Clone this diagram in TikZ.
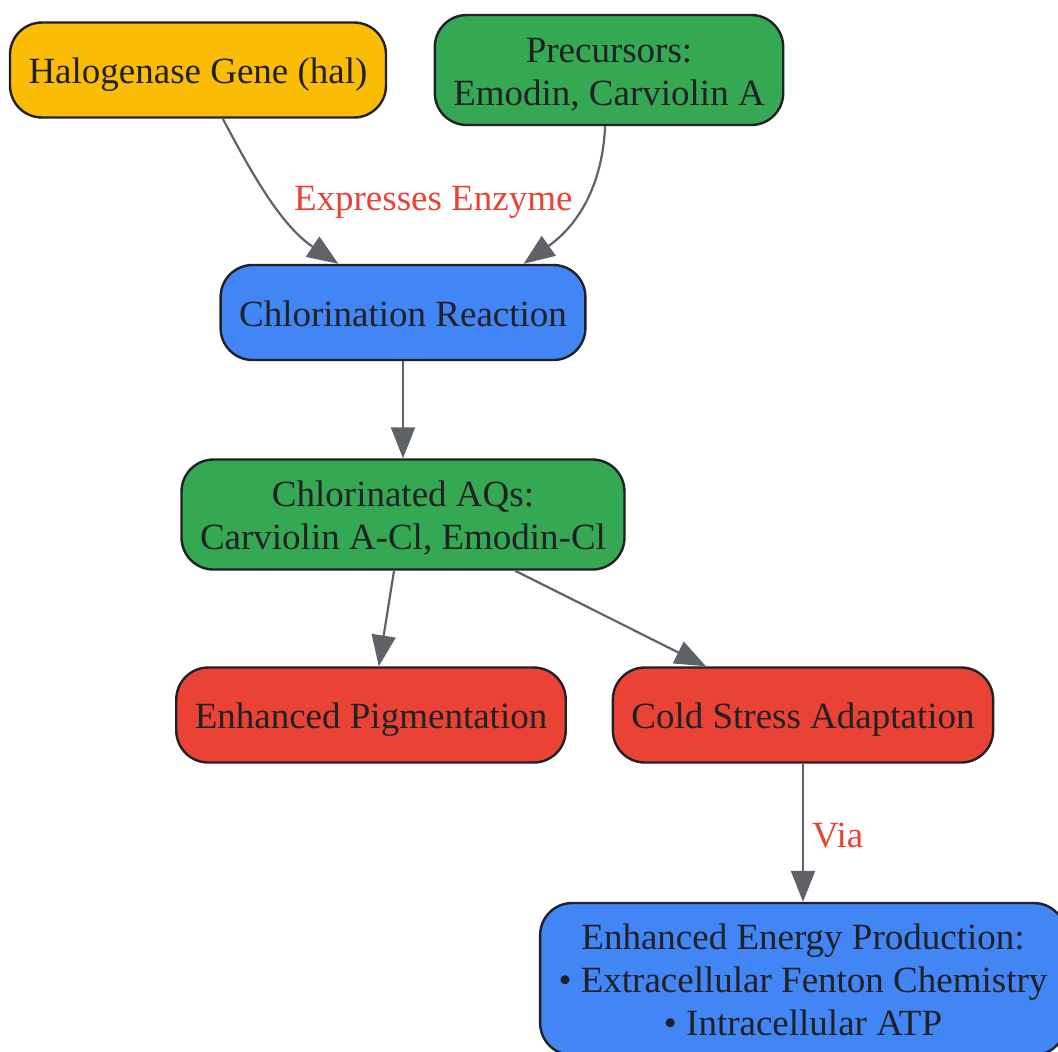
\documentclass[tikz,border=0pt]{standalone}
\usepackage{fontspec}
\setmainfont{Liberation Serif}
\usepackage{xcolor}
\usetikzlibrary{arrows.meta}
\definecolor{gyellow}{HTML}{FBBC05}
\definecolor{ggreen}{HTML}{34A853}
\definecolor{gblue}{HTML}{4285F4}
\definecolor{gred}{HTML}{EA4335}
\definecolor{ink}{HTML}{202124}
\definecolor{linkgray}{HTML}{5F6368}
\newcommand{\tallstrut}{\rule{0pt}{18pt}}

\begin{document}
\begin{tikzpicture}[x=0.5pt, y=-0.5pt,
  box/.style={draw=ink, line width=1.2pt, rounded corners=16pt, align=center,
    text=ink, inner xsep=9.25pt, inner ysep=0pt, minimum height=47.5pt,
    font=\fontsize{18.5pt}{21.5pt}\selectfont,
    execute at begin node={\tallstrut},
    execute at end node={\rule[-4.5pt]{0pt}{4.5pt}}},
  link/.style={draw=linkgray, line width=1.1pt,
    -{Triangle[length=15.5pt,width=12pt,fill=linkgray]}},
  lbl/.style={text=gred, inner sep=2pt, font=\fontsize{18.5pt}{21.5pt}\selectfont}]
\useasboundingbox (0,0) rectangle (1058,1051);
% boxes
\node [box, fill=gyellow] (hal) at (198,70) {Halogenase Gene (hal)};
\node [box, fill=ggreen, minimum height=55pt] (prec) at (609,70) {\tallstrut Precursors:\\Emodin, Carviolin A};
\node [box, fill=gblue] (chlor) at (403,312.5) {Chlorination Reaction};
\node [box, fill=ggreen, minimum height=55pt] (aqs) at (403,514.5) {\tallstrut Chlorinated AQs:\\Carviolin A-Cl, Emodin-Cl};
\node [box, fill=gred] (pig) at (371,715) {Enhanced Pigmentation};
\node [box, fill=gred] (cold) at (803,715) {Cold Stress Adaptation};
\node [box, fill=gblue, minimum height=76pt] (energy) at (803,979) {\tallstrut Enhanced Energy Production:\\%
  • Extracellular Fenton Chemistry\\• Intracellular ATP};
% links
\draw [link] (hal.-63) .. controls (250,170) and (280,225) .. (chlor.143)
  node [lbl, pos=0.5, right=10pt, yshift=-3pt] {Expresses Enzyme};
\draw [link] (prec.-94) .. controls (603,175) and (585,220) .. (chlor.22);
\draw [link] (chlor) -- (aqs);
\draw [link] (aqs) -- (pig);
\draw [link] (aqs) -- (cold);
\draw [link] (cold) -- (energy) node [lbl, midway, right=2pt, yshift=-1.5pt] {Via};
\end{tikzpicture}
\end{document}
